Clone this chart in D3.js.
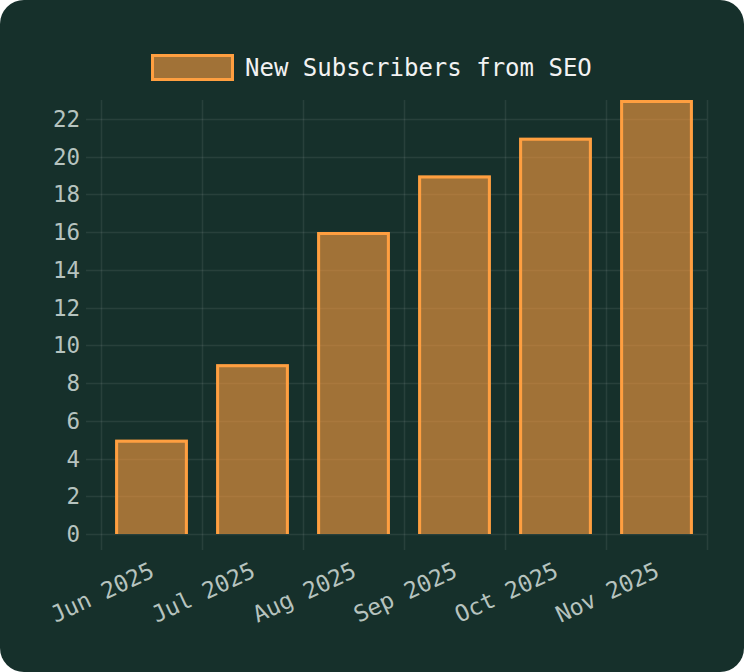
<!DOCTYPE html>
<html><head><meta charset="utf-8">
<script src="https://cdn.jsdelivr.net/npm/d3@7/dist/d3.min.js"></script>
<style>
html,body{margin:0;padding:0;background:#ffffff;}
svg{display:block;}
</style></head>
<body>
<svg id="chart" width="744" height="672"></svg>
<script>
const categories = ["Jun 2025","Jul 2025","Aug 2025","Sep 2025","Oct 2025","Nov 2025"];
const values = [5, 9, 16, 19, 21, 23];
const yTicks = [0,2,4,6,8,10,12,14,16,18,20,22];
const seriesName = "New Subscribers from SEO";

const W = 744, H = 672;
const pLeft = 101, pRight = 707, pTop = 100, pBottom = 534;
const font = "'DejaVu Sans Mono', monospace";
const svg = d3.select("#chart");

svg.append("rect").attr("x",0).attr("y",0).attr("width",W).attr("height",H)
  .attr("rx",24).attr("ry",24).attr("fill","#16302b");

const x = d3.scaleBand().domain(categories).range([pLeft,pRight]).paddingInner(0.28).paddingOuter(0.14);
const y = d3.scaleLinear().domain([0,23]).range([pBottom,pTop]);
const grid = "rgba(255,255,255,0.08)";
const step = x.step();

const g = svg.append("g");
d3.range(categories.length+1).forEach(i=>{
  const xx = Math.round(pLeft + i*step) + 0.5;
  g.append("line").attr("x1",xx).attr("x2",xx).attr("y1",pTop).attr("y2",pBottom+16)
    .attr("stroke",grid).attr("stroke-width",1.5);
});
yTicks.forEach(t=>{
  const yy = Math.round(y(t)) + 0.5;
  g.append("line").attr("x1",pLeft-15).attr("x2",pRight).attr("y1",yy).attr("y2",yy)
    .attr("stroke",grid).attr("stroke-width",1.5);
});

svg.append("g").selectAll("text").data(yTicks).join("text")
  .attr("x",80).attr("y",d=>y(d)).attr("text-anchor","end").attr("dominant-baseline","central")
  .attr("font-family",font).attr("font-size",22.5).attr("fill","#b6c3bf").text(d=>d);

const ang = -25;
svg.append("g").selectAll("text").data(categories).join("text")
  .attr("transform",d=>`translate(${x(d)+x.bandwidth()/2+1},${569}) rotate(${ang})`)
  .attr("text-anchor","end").attr("dominant-baseline","central")
  .attr("font-family",font).attr("font-size",23).attr("fill","#b6c3bf").text(d=>d);

const bw = 3;
const bars = svg.append("g");
categories.forEach((c,i)=>{
  const x0 = x(c), x1 = x(c)+x.bandwidth(), y0 = y(values[i]), y1 = y(0);
  bars.append("rect").attr("x",x0).attr("y",y0).attr("width",x1-x0).attr("height",y1-y0)
    .attr("fill","rgba(255,159,64,0.6)");
  const h = bw/2;
  bars.append("path").attr("d",`M${x0+h},${y1} L${x0+h},${y0+h} L${x1-h},${y0+h} L${x1-h},${y1}`)
    .attr("fill","none").attr("stroke","#ff9f40").attr("stroke-width",bw);
});

const lg = svg.append("g");
lg.append("rect").attr("x",152.5).attr("y",55.5).attr("width",80).attr("height",24)
  .attr("fill","rgba(255,159,64,0.6)").attr("stroke","#ff9f40").attr("stroke-width",3);
lg.append("text").attr("x",245).attr("y",67.5).attr("dominant-baseline","central")
  .attr("font-family",font).attr("font-size",24).attr("fill","#f2f2f2").text(seriesName);
</script>
</body></html>
